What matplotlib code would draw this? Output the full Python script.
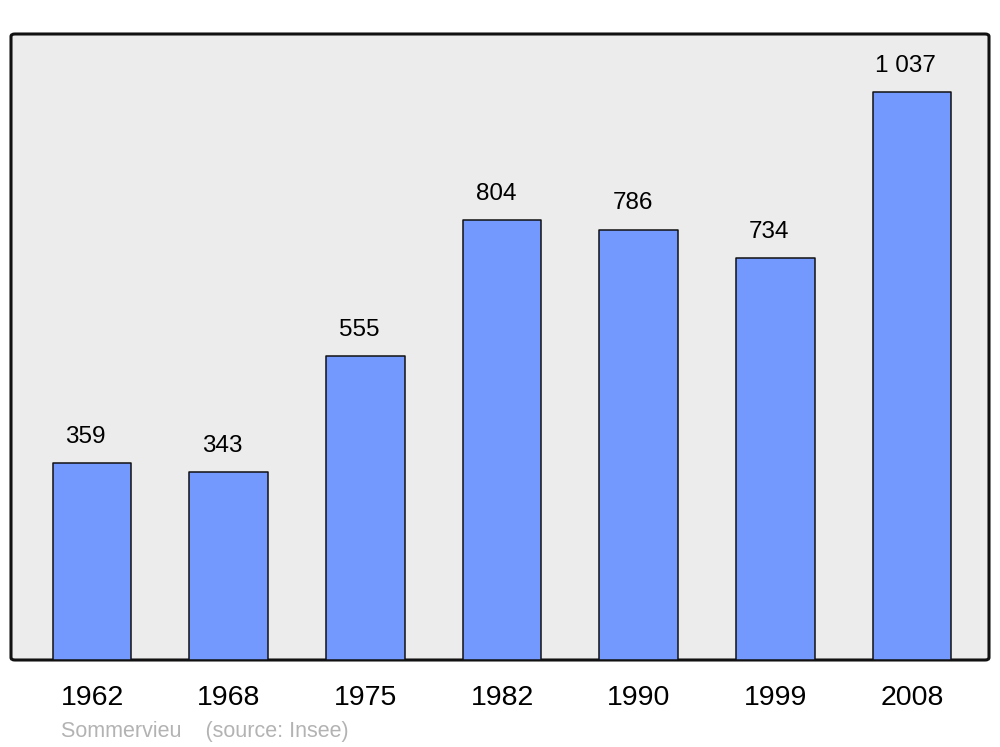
import matplotlib.pyplot as plt
from matplotlib.patches import FancyBboxPatch

plt.rcParams['font.family'] = ['Liberation Sans', 'DejaVu Sans']

years = ["1962", "1968", "1975", "1982", "1990", "1999", "2008"]
population = [359, 343, 555, 804, 786, 734, 1037]
labels = ["359", "343", "555", "804", "786", "734", "1 037"]

fig = plt.figure(figsize=(10, 7.47), dpi=100)
ax = fig.add_axes([0.011, 1 - 660 / 747, 0.978, 626 / 747])
ax.set_facecolor("none")

# rounded frame
frame = FancyBboxPatch((0, 0), 1, 1, boxstyle="round,pad=0,rounding_size=0.004",
                       transform=ax.transAxes, facecolor="#ececec",
                       edgecolor="#111111", linewidth=2.2, zorder=0, clip_on=False)
ax.add_patch(frame)

x = range(len(years))
bars = ax.bar(x, population, width=0.575, color="#7399ff", edgecolor="#111111",
              linewidth=1.1, zorder=2)
for b in bars:
    b.set_joinstyle("round")

for xi, v, lab in zip(x, population, labels):
    ax.annotate(lab, (xi, v), xytext=(-4.5, 14.5), textcoords="offset points",
                ha="center", va="baseline", fontsize=17.5, color="black")

ax.set_xlim(-0.593, 6.563)
ax.set_ylim(0, 1143)
ax.set_xticks(list(x))
ax.set_xticklabels(years, fontsize=20.5)
ax.tick_params(axis="x", length=0, pad=18)
ax.set_yticks([])
for s in ax.spines.values():
    s.set_visible(False)

fig.text(0.061, 1 - 737 / 747, "Sommervieu    (source: Insee)", fontsize=15.5,
         color="#b3b3b3", va="baseline", ha="left")

fig.savefig("out.png", dpi=100)
